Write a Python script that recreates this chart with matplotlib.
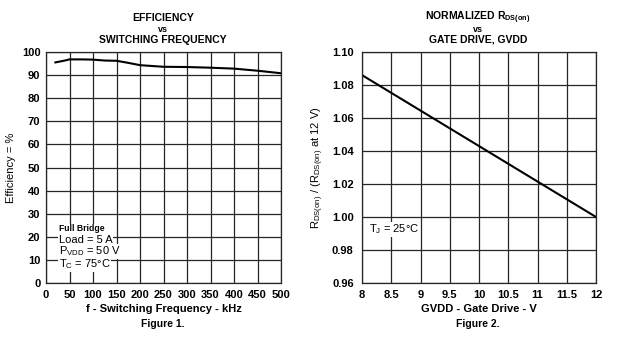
#!/usr/bin/env python3
import matplotlib
matplotlib.use('Agg')
import matplotlib.pyplot as plt

plt.rcParams['font.family'] = ['Liberation Sans', 'DejaVu Sans']
plt.rcParams['mathtext.fontset'] = 'custom'
plt.rcParams['mathtext.rm'] = 'Liberation Sans'
plt.rcParams['mathtext.it'] = 'Liberation Sans'
plt.rcParams['mathtext.bf'] = 'Liberation Sans:bold'

# efficiency vs switching frequency
freq_khz = [20, 40, 50, 75, 100, 125, 150, 175, 200, 250, 300, 350, 400, 450, 500]
efficiency = [95.5, 96.3, 96.8, 96.8, 96.7, 96.3, 96.2, 95.3, 94.3, 93.6, 93.5, 93.2, 92.8, 91.9, 90.8]

# normalized rds(on) vs gate drive
gvdd = [8, 12]
rds_norm = [1.086, 1.000]

freq_ticks = [0, 50, 100, 150, 200, 250, 300, 350, 400, 450, 500]
eff_ticks = [0, 10, 20, 30, 40, 50, 60, 70, 80, 90, 100]
gvdd_ticks = [8, 8.5, 9, 9.5, 10, 10.5, 11, 11.5, 12]
rds_ticks = [0.96, 0.98, 1.00, 1.02, 1.04, 1.06, 1.08, 1.10]

GRID = '#262626'


def style_axes(ax, ypad):
    ax.grid(True, color=GRID, linewidth=0.9)
    ax.set_axisbelow(True)
    ax.tick_params(axis='x', length=0, labelsize=8, pad=5)
    ax.tick_params(axis='y', length=0, labelsize=8, pad=ypad)
    for lbl in ax.get_xticklabels() + ax.get_yticklabels():
        lbl.set_fontweight('bold')
    for sp in ax.spines.values():
        sp.set_color(GRID)
        sp.set_linewidth(0.9)


def title_block(fig, x, top, bottom):
    fig.text(x, 1 - 18 / 337, top, ha='center', va='center',
             fontsize=7.5, fontweight='bold')
    fig.text(x, 1 - 30 / 337, 'vs', ha='center', va='center',
             fontsize=6.5, fontweight='bold')
    fig.text(x, 1 - 40 / 337, bottom, ha='center', va='center',
             fontsize=7.5, fontweight='bold')


fig = plt.figure(figsize=(6.2, 3.37), dpi=100)
ax1 = fig.add_axes([46 / 620, 1 - 283 / 337, 235 / 620, 231 / 337])
ax2 = fig.add_axes([362 / 620, 1 - 283 / 337, 234 / 620, 231 / 337])

# Figure 1
ax1.plot(freq_khz, efficiency, color='black', linewidth=1.5)
ax1.set_xlim(0, 500)
ax1.set_ylim(0, 100)
ax1.set_xticks(freq_ticks)
ax1.set_yticks(eff_ticks)
style_axes(ax1, 4)
ax1.set_xlabel('f - Switching Frequency - kHz', fontsize=8,
               fontweight='bold', labelpad=3)
ax1.set_ylabel('Efficiency = %', fontsize=8, labelpad=4)
box = dict(facecolor='white', edgecolor='none', pad=0.6)
ax1.text(27, 23.4, 'Full Bridge', fontsize=6.2, fontweight='bold', va='center', bbox=box)
ax1.text(27, 18.6, 'Load = 5 A', fontsize=8, va='center', bbox=box)
ax1.text(27, 13.6, r'P$_{\mathregular{VDD}}$ = 50 V', fontsize=8, va='center', bbox=box)
ax1.text(27, 8.2, r'T$_{\mathregular{C}}$ = 75°C', fontsize=8, va='center', bbox=box)
title_block(fig, 163 / 620, 'EFFICIENCY', 'SWITCHING FREQUENCY')
fig.text(163 / 620, 1 - 324 / 337, 'Figure 1.', ha='center', va='center',
         fontsize=7.5, fontweight='bold')

# Figure 2
ax2.plot(gvdd, rds_norm, color='black', linewidth=1.5)
ax2.set_xlim(8, 12)
ax2.set_ylim(0.96, 1.10)
ax2.set_xticks(gvdd_ticks)
ax2.set_xticklabels(['8', '8.5', '9', '9.5', '10', '10.5', '11', '11.5', '12'])
ax2.set_yticks(rds_ticks)
ax2.set_yticklabels(['%.2f' % v for v in rds_ticks])
style_axes(ax2, 6)
ax2.set_xlabel('GVDD - Gate Drive - V', fontsize=8, fontweight='bold', labelpad=3)
ax2.set_ylabel(r'R$_{\mathregular{DS(on)}}$ / (R$_{\mathregular{DS(on)}}$ at 12 V)',
               fontsize=8, labelpad=4)
ax2.text(8.12, 0.9925, r'T$_{\mathregular{J}}$ = 25°C', fontsize=8, va='center', bbox=box)
title_block(fig, 478 / 620, r'NORMALIZED R$_{\mathbf{DS(on)}}$', 'GATE DRIVE, GVDD')
fig.text(478 / 620, 1 - 324 / 337, 'Figure 2.', ha='center', va='center',
         fontsize=7.5, fontweight='bold')

fig.savefig('out.png', dpi=100, facecolor='white')
